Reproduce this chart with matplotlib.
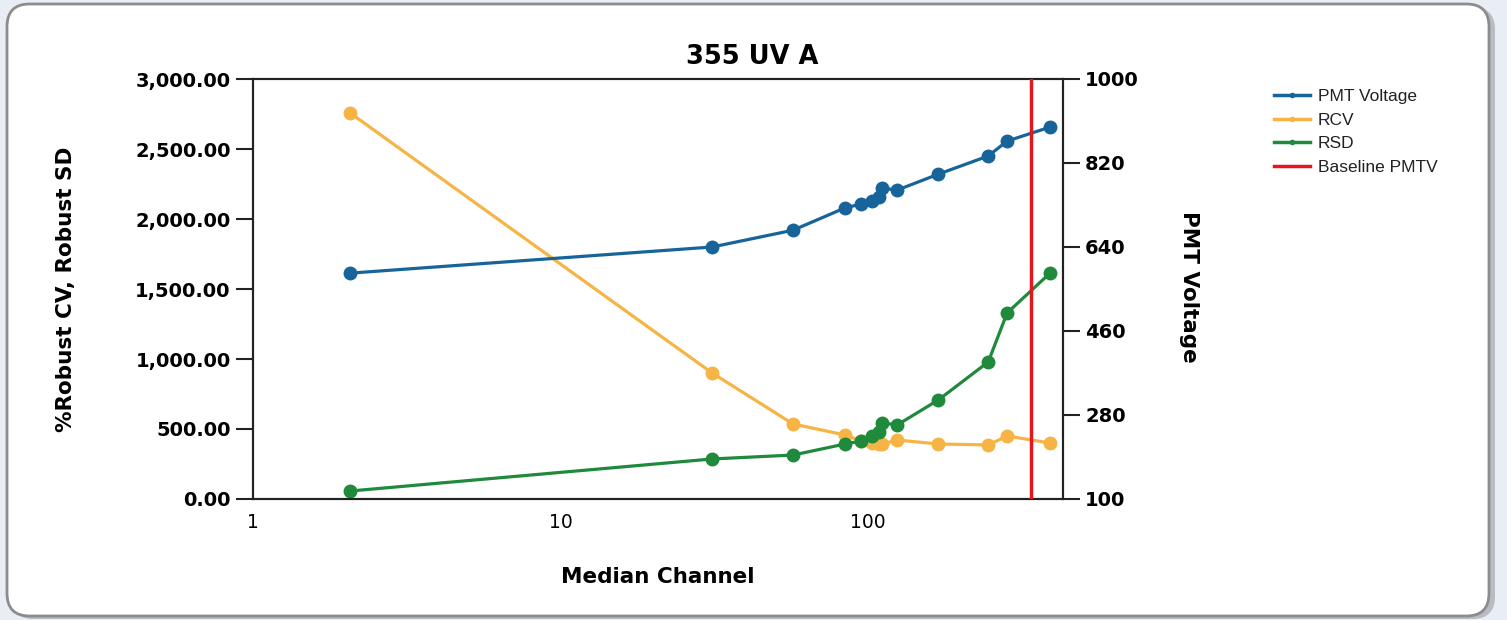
import numpy as np
import matplotlib
matplotlib.use("Agg")
import matplotlib.pyplot as plt
from matplotlib.patches import FancyBboxPatch
from matplotlib.ticker import FixedLocator, FuncFormatter

# values
median_channel = [2.07, 31.1, 57.0, 84.2, 94.9, 103, 108.6, 111.1, 124.3, 169, 245.7, 283, 390.5]
pmt_voltage = [584, 640, 676, 724, 732, 739, 747, 766, 762, 796, 835, 867, 897]
rcv = [2757, 900, 536, 457, 414, 400, 393, 393, 421, 393, 386, 450, 400]
rsd = [57, 286, 314, 393, 414, 450, 479, 543, 529, 707, 979, 1329, 1614]
baseline_pmtv = 339

left_ticks = [0, 500, 1000, 1500, 2000, 2500, 3000]
right_ticks = [100, 280, 460, 640, 820, 1000]
x_ticks = [1, 10, 100]

c_blue = "#17649a"
c_orange = "#f5b445"
c_green = "#1f8a3b"
c_red = "#e3171f"

W, H = 1507, 620
fig = plt.figure(figsize=(W / 100, H / 100), dpi=100)
fig.patch.set_facecolor("#e9eef4")

# rounded frame with a soft shadow
shadow = FancyBboxPatch((11 / W, 1 / H), 1484 / W, 612 / H,
                        boxstyle="round,pad=0,rounding_size=0.015",
                        transform=fig.transFigure, facecolor="#b9bcc2",
                        edgecolor="none", zorder=-2, mutation_aspect=W / H)
frame = FancyBboxPatch((7 / W, 4 / H), 1482 / W, 612 / H,
                       boxstyle="round,pad=0,rounding_size=0.015",
                       transform=fig.transFigure, facecolor="white",
                       edgecolor="#8c8c8c", linewidth=2, zorder=-1,
                       mutation_aspect=W / H)
fig.patches.extend([shadow, frame])

ax = fig.add_axes([253 / W, 1 - 499 / H, (1063 - 253) / W, (499 - 79) / H])
ax.set_facecolor("none")
ax2 = ax.twinx()

tick_font = dict(family="DejaVu Sans", weight="bold", size=14)

ax.plot(median_channel, rcv, color=c_orange, lw=2.3, marker="o", ms=9, zorder=3)
ax.plot(median_channel, rsd, color=c_green, lw=2.3, marker="o", ms=9, zorder=3)
ax2.plot(median_channel, pmt_voltage, color=c_blue, lw=2.3, marker="o", ms=9, zorder=3)
ax2.axvline(baseline_pmtv, color=c_red, lw=2.5, zorder=4)

ax.set_xscale("log")
ax.set_xlim(1, 430)
ax.set_ylim(0, 3000)
ax2.set_ylim(100, 1000)

ax.xaxis.set_major_locator(FixedLocator(x_ticks))
ax.xaxis.set_minor_locator(FixedLocator([]))
ax.xaxis.set_major_formatter(FuncFormatter(lambda v, p: f"{v:g}"))
ax.yaxis.set_major_locator(FixedLocator(left_ticks))
ax.yaxis.set_major_formatter(FuncFormatter(lambda v, p: f"{v:,.2f}"))
ax2.yaxis.set_major_locator(FixedLocator(right_ticks))

for a in (ax, ax2):
    for s in a.spines.values():
        s.set_color("#222222")
        s.set_linewidth(1.5)
    a.tick_params(length=12, width=1.5, color="#222222", pad=4)
    for lab in a.get_yticklabels():
        lab.set_fontproperties(tick_font)
ax.tick_params(axis="x", length=0, pad=10)
for lab in ax.get_xticklabels():
    lab.set_fontproperties(tick_font)
    lab.set_fontweight("normal")
    lab.set_fontsize(13.5)

ax.set_xlabel("Median Channel", fontsize=15.5, fontweight="bold", labelpad=25)
ax.set_ylabel("%Robust CV, Robust SD", fontsize=15.5, fontweight="bold")
ax2.set_ylabel("PMT Voltage", fontsize=15.5, fontweight="bold", rotation=-90,
               va="center")
ax2.yaxis.set_label_coords(1.155, 0.505)
ax.yaxis.set_label_coords(-0.2185, 0.5)

fig.text(752 / W, 1 - 57 / H, "355 UV A", ha="center", va="center",
         fontsize=18.5, fontweight="bold")

# legend
handles = [
    plt.Line2D([], [], color=c_blue, lw=2.5, marker="o", ms=3),
    plt.Line2D([], [], color=c_orange, lw=2.5, marker="o", ms=3),
    plt.Line2D([], [], color=c_green, lw=2.5, marker="o", ms=3),
    plt.Line2D([], [], color=c_red, lw=2.5),
]
labels = ["PMT Voltage", "RCV", "RSD", "Baseline PMTV"]
fig.legend(handles, labels, loc="upper left", bbox_to_anchor=(1258 / W, 1 - 73 / H),
           frameon=False, prop={"family": "Liberation Sans", "size": 12.5},
           handlelength=2.1, handletextpad=0.45, labelspacing=0.5,
           labelcolor="#222222")

fig.savefig("out.png", dpi=100, facecolor=fig.get_facecolor())
